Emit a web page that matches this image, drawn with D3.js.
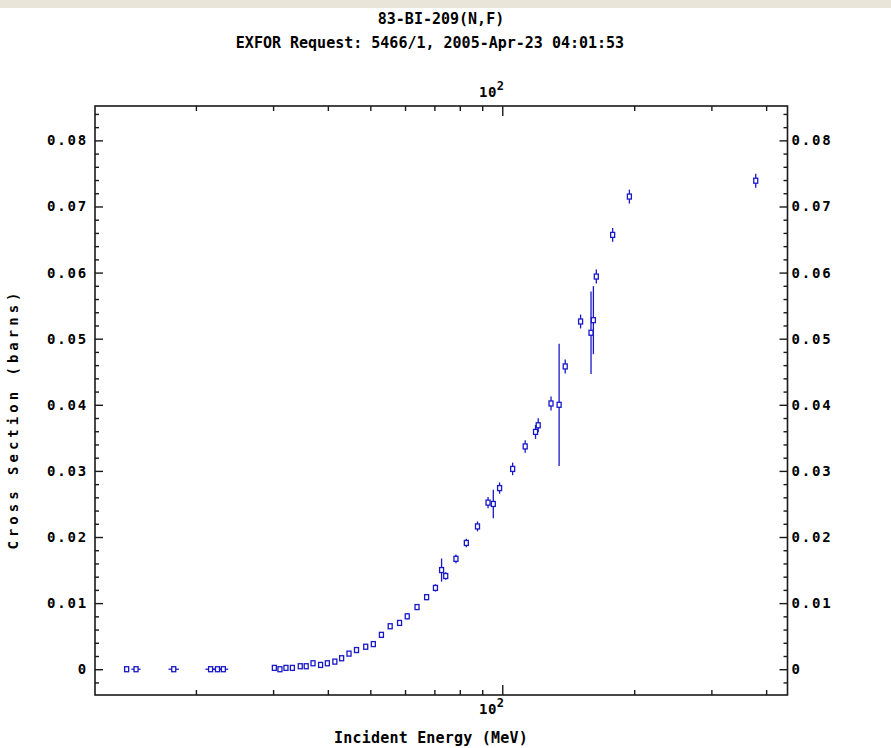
<!DOCTYPE html>
<html>
<head>
<meta charset="utf-8">
<script src="https://cdn.jsdelivr.net/npm/d3@7"></script>
<style>
  html, body { margin: 0; padding: 0; background: #ffffff; }
  svg { display: block; }
  .mono { font-family: "DejaVu Sans Mono", "Liberation Mono", monospace; font-weight: bold; fill: #000; }
</style>
</head>
<body>
<svg id="chart" width="891" height="748"></svg>
<script>
// 83-BI-209(N,F) cross section data (incident energy in MeV, cross section in barns)
const energy = [13.9, 14.6, 17.8, 21.6, 22.4, 23.1,
  30.2, 31.1, 32.1, 33.2, 34.6, 35.7, 37.0, 38.5, 39.9, 41.5, 43.0, 44.7, 46.5, 48.8, 50.8,
  53.0, 55.5, 58.3, 60.7, 63.9, 67.2, 70.4, 72.7, 74.3, 78.4, 82.8, 87.8, 92.8, 95.4, 98.6,
  105.6, 112.8, 119.1, 120.8, 129.2, 134.8, 139.2, 150.9, 159.4, 161.4, 163.9, 178.6, 195.0, 378.7];
const crossSection = [0, 0, 0, 0, 0, 0,
  0.0002, 0.0000, 0.0002, 0.0002, 0.00045, 0.00045, 0.0009, 0.00065, 0.0009, 0.00115, 0.00166, 0.00236, 0.0029, 0.0034, 0.0038,
  0.0052, 0.0065, 0.0070, 0.0080, 0.0094, 0.0109, 0.0123, 0.0150, 0.0141, 0.0167, 0.0191, 0.0216, 0.0252, 0.0250, 0.0274,
  0.0303, 0.0337, 0.0359, 0.0369, 0.0402, 0.0400, 0.0458, 0.0526, 0.0509, 0.0528, 0.0594, 0.0657, 0.0715, 0.0739];
const crossSectionErr = [0.0001, 0.0001, 0.0001, 0.0001, 0.0001, 0.0001,
  0.0001, 0.0001, 0.0001, 0.0001, 0.0001, 0.0001, 0.0001, 0.0001, 0.0001, 0.0001, 0.0001, 0.0001, 0.0001, 0.0002, 0.0002,
  0.0002, 0.0002, 0.0002, 0.0003, 0.0003, 0.0003, 0.0004, 0.0016, 0.0004, 0.0005, 0.0005, 0.0006, 0.0007, 0.0020, 0.0007,
  0.0008, 0.0008, 0.0009, 0.0009, 0.0009, 0.0091, 0.0009, 0.0009, 0.0061, 0.0050, 0.0009, 0.0009, 0.0009, 0.0009];
const energyErr = [0, 0.2, 0.3, 0.35, 0.35, 0.35,
  0, 0, 0, 0, 0, 0, 0, 0, 0, 0, 0, 0, 0, 0, 0,
  0, 0, 0, 0, 0, 0, 0, 0, 0, 0, 0, 0, 0, 0, 0,
  0, 0, 0, 0, 0, 0, 0, 0, 0, 0, 0, 0, 0, 0];

const yMajorTicks = [0, 0.01, 0.02, 0.03, 0.04, 0.05, 0.06, 0.07, 0.08];
const xMajorTicks = [100];
const xMinorTicks = [20, 30, 40, 50, 60, 70, 80, 90, 200, 300, 400];

const titleLine1 = "83-BI-209(N,F)";
const titleLine2 = "EXFOR Request: 5466/1, 2005-Apr-23 04:01:53";
const xTitle = "Incident Energy (MeV)";
const yTitle = "Cross Section (barns)";

const svg = d3.select("#chart");
const W = 891, H = 748;
const plot = { left: 95, right: 787.5, top: 106, bottom: 695 };
const markColor = "#1818c8";

// thin beige band across the top of the window
svg.append("rect").attr("x", 0).attr("y", 0).attr("width", W).attr("height", 8)
  .attr("fill", "#e9e5d8");

const x = d3.scaleLog().domain([11.77, 447.5]).range([plot.left, plot.right]);
const y = d3.scaleLinear().domain([-0.0039, 0.0852]).range([plot.bottom, plot.top]);

// titles
svg.append("text").attr("class", "mono").attr("x", 441).attr("y", 24)
  .attr("text-anchor", "middle").style("font-size", "15px").text(titleLine1);
svg.append("text").attr("class", "mono").attr("x", 430).attr("y", 48)
  .attr("text-anchor", "middle").style("font-size", "15px").text(titleLine2);

// frame
svg.append("rect").attr("x", plot.left).attr("y", plot.top)
  .attr("width", plot.right - plot.left).attr("height", plot.bottom - plot.top)
  .attr("fill", "none").attr("stroke", "#1a1a1a").attr("stroke-width", 1.6);

const yFmt = d => d === 0 ? "0" : d3.format(".2f")(d);
const yMinor = d3.range(-0.002, 0.0851, 0.002).filter(v => Math.abs(Math.round(v * 100) - v * 100) > 1e-6);

function styleAxis(g) {
  g.select(".domain").remove();
  g.selectAll(".tick line").attr("stroke", "#1a1a1a").attr("stroke-width", 1.4);
  g.selectAll(".tick text").attr("class", "mono")
    .style("font-size", "14px").style("letter-spacing", "1.8px");
}

// left / right y axes (ticks point inward)
svg.append("g").attr("transform", `translate(${plot.left},0)`)
  .call(d3.axisLeft(y).tickValues(yMajorTicks).tickFormat(yFmt).tickSizeInner(-8).tickSizeOuter(0).tickPadding(7))
  .call(styleAxis);
svg.append("g").attr("transform", `translate(${plot.left},0)`)
  .call(d3.axisLeft(y).tickValues(yMinor).tickFormat("").tickSizeInner(-4).tickSizeOuter(0))
  .call(styleAxis);
svg.append("g").attr("transform", `translate(${plot.right},0)`)
  .call(d3.axisRight(y).tickValues(yMajorTicks).tickFormat(yFmt).tickSizeInner(-8).tickSizeOuter(0).tickPadding(4))
  .call(styleAxis);
svg.append("g").attr("transform", `translate(${plot.right},0)`)
  .call(d3.axisRight(y).tickValues(yMinor).tickFormat("").tickSizeInner(-4).tickSizeOuter(0))
  .call(styleAxis);

// bottom / top x axes
function decadeLabel(sel, dy) {
  sel.selectAll(".tick text").each(function () {
    const t = d3.select(this).text("").attr("dy", null).attr("y", dy)
      .attr("x", -11).style("letter-spacing", "0.5px");
    t.append("tspan").text("10");
    t.append("tspan").attr("dy", -7).style("font-size", "12px").text("2");
  });
}
svg.append("g").attr("transform", `translate(0,${plot.bottom})`)
  .call(d3.axisBottom(x).tickValues(xMajorTicks).tickFormat(d => d).tickSizeInner(-10).tickSizeOuter(0))
  .call(styleAxis).call(g => decadeLabel(g, 19));
svg.append("g").attr("transform", `translate(0,${plot.bottom})`)
  .call(d3.axisBottom(x).tickValues(xMinorTicks).tickFormat("").tickSizeInner(-5).tickSizeOuter(0))
  .call(styleAxis);
svg.append("g").attr("transform", `translate(0,${plot.top})`)
  .call(d3.axisTop(x).tickValues(xMajorTicks).tickFormat(d => d).tickSizeInner(-10).tickSizeOuter(0))
  .call(styleAxis).call(g => decadeLabel(g, -9));
svg.append("g").attr("transform", `translate(0,${plot.top})`)
  .call(d3.axisTop(x).tickValues(xMinorTicks).tickFormat("").tickSizeInner(-5).tickSizeOuter(0))
  .call(styleAxis);

// axis titles
svg.append("text").attr("class", "mono").attr("x", 431).attr("y", 743)
  .attr("text-anchor", "middle").style("font-size", "15px").style("letter-spacing", "0.2px").text(xTitle);
svg.append("text").attr("class", "mono")
  .attr("transform", "translate(18,419) rotate(-90)")
  .attr("text-anchor", "middle").style("font-size", "14px").style("letter-spacing", "4px").text(yTitle);

// data points with error bars
const pts = energy.map((e, i) => ({ e, v: crossSection[i], dv: crossSectionErr[i], de: energyErr[i] }));
const g = svg.append("g");
g.selectAll("line.ey").data(pts).join("line").attr("class", "ey")
  .attr("x1", d => x(d.e)).attr("x2", d => x(d.e))
  .attr("y1", d => y(d.v + d.dv) - 1).attr("y2", d => y(d.v - d.dv) + 1)
  .attr("stroke", markColor).attr("stroke-width", 1.3);
g.selectAll("line.ex").data(pts.filter(d => d.de > 0)).join("line").attr("class", "ex")
  .attr("x1", d => x(d.e - d.de) - 2).attr("x2", d => x(d.e + d.de) + 2)
  .attr("y1", d => y(d.v)).attr("y2", d => y(d.v))
  .attr("stroke", markColor).attr("stroke-width", 1.3);
g.selectAll("rect.pt").data(pts).join("rect").attr("class", "pt")
  .attr("x", d => x(d.e) - 2).attr("y", d => y(d.v) - 2.5)
  .attr("width", 4).attr("height", 5)
  .attr("fill", "#ffffff").attr("stroke", markColor).attr("stroke-width", 1.3);
</script>
</body>
</html>
